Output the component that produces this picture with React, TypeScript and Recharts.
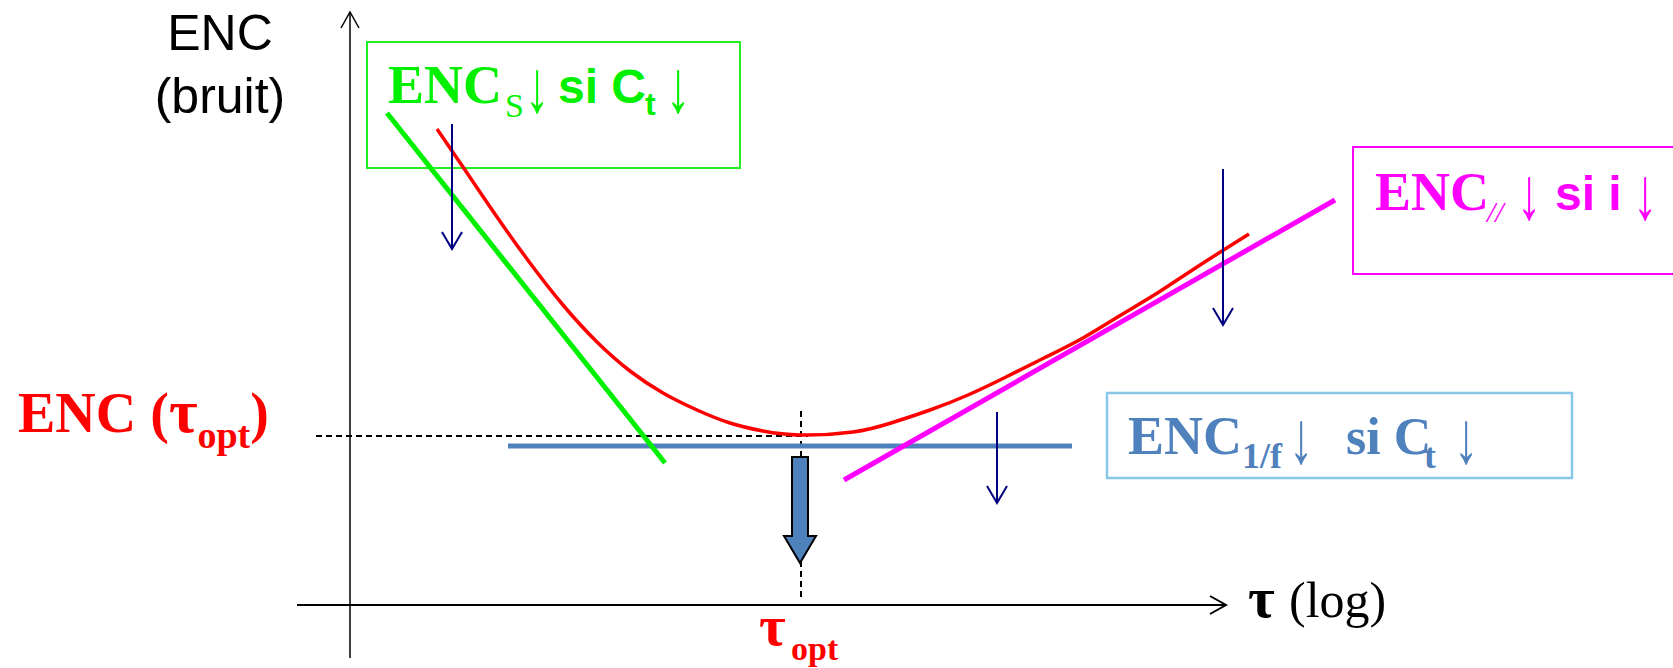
import React from 'react';
import { LineChart, Line, XAxis, YAxis, ReferenceLine, ReferenceArea, ReferenceDot } from 'recharts';

const W = 1673;
const H = 668;

// x = log(tau), y = ENC (arbitrary units)
const totalTau = [0.87, 1.13, 1.47, 1.8, 2.13, 2.47, 2.8, 3.13, 3.47, 3.8, 4.13, 4.5, 5.03, 5.41, 5.8, 6.18, 6.56, 6.94, 7.33, 7.71, 8.09, 8.47, 8.99];
const totalEnc = [4.76, 4.38, 3.88, 3.42, 3.0, 2.63, 2.34, 2.12, 1.95, 1.82, 1.74, 1.7, 1.73, 1.82, 1.95, 2.1, 2.28, 2.47, 2.67, 2.9, 3.13, 3.38, 3.71];

// series noise (slope -1), parallel noise (slope +1), 1/f noise (flat)
const seriesTau = [0.37, 3.15];
const seriesEnc = [4.92, 1.42];
const parallelTau = [4.94, 9.85];
const parallelEnc = [1.25, 4.05];
const flickerTau = [1.58, 7.22];
const flickerEnc = [1.59, 1.59];

const tauOpt = 4.51;
const encOpt = 1.69;

const X_DOMAIN = [-3.5, 13.23];
const Y_DOMAIN = [-0.63, 6.05];

const SERIF = '"Liberation Serif", "Times New Roman", serif';
const SANS = '"Liberation Sans", Arial, sans-serif';

const toRows = (xs: number[], ys: number[]) => xs.map((x, i) => ({ tau: x, enc: ys[i] }));

const headPoints = (x1: number, y1: number, x2: number, y2: number, len: number, half: number) => {
  const d = Math.hypot(x2 - x1, y2 - y1) || 1;
  const ux = (x2 - x1) / d;
  const uy = (y2 - y1) / d;
  const bx = x2 - ux * len;
  const by = y2 - uy * len;
  return `${bx - uy * half},${by + ux * half} ${x2},${y2} ${bx + uy * half},${by - ux * half}`;
};

const arrowShape = (color: string, width: number, len: number, half: number) => (p: any) => (
  <g>
    <line x1={p.x1} y1={p.y1} x2={p.x2} y2={p.y2} stroke={color} strokeWidth={width} />
    <polyline points={headPoints(p.x1, p.y1, p.x2, p.y2, len, half)} fill="none" stroke={color} strokeWidth={width} />
  </g>
);

// block arrow pointing down from (x1,y1) to the tip (x2,y2)
const blockArrow = (p: any) => {
  const { x1, y1, x2, y2 } = p;
  const sw = 8;
  const hw = 16;
  const hl = 27;
  const pts = [
    [x1 - sw, y1], [x1 + sw, y1], [x1 + sw, y2 - hl], [x1 + hw, y2 - hl],
    [x2, y2], [x1 - hw, y2 - hl], [x1 - sw, y2 - hl],
  ].map((q) => q.join(',')).join(' ');
  return <polygon points={pts} fill="#4F81BD" stroke="#000" strokeWidth={2} />;
};

type Piece = {
  t: string; dx: number; dy?: number; size: number;
  font?: string; weight?: string; style?: string; sx?: number; sy?: number;
};

const richText = (pieces: Piece[], color: string) => (p: any) => (
  <g>
    {pieces.map((s, i) => {
      const x = p.cx + s.dx;
      const y = p.cy + (s.dy || 0);
      const scaled = s.sx !== undefined || s.sy !== undefined;
      return (
        <text
          key={i}
          x={scaled ? 0 : x}
          y={scaled ? 0 : y}
          transform={scaled ? `translate(${x},${y}) scale(${s.sx ?? 1},${s.sy ?? 1})` : undefined}
          fill={color}
          fontFamily={s.font || SERIF}
          fontWeight={s.weight || 'bold'}
          fontStyle={s.style || 'normal'}
          fontSize={s.size}
        >
          {s.t}
        </text>
      );
    })}
  </g>
);

// the down arrow glyph: stretched tall and slim next to the words
const down = (dx: number): Piece => ({ t: '↓', dx, dy: 9, size: 54, weight: 'normal', sx: 0.9, sy: 1.37 });

const greenLabel: Piece[] = [
  { t: 'ENC', dx: 0, size: 54 },
  { t: 'S', dx: 117, dy: 14, size: 34, weight: 'normal' },
  down(137),
  { t: 'si C', dx: 170, size: 48, font: SANS },
  { t: 't', dx: 257, dy: 12, size: 32, font: SANS },
  down(278),
];

const magentaLabel: Piece[] = [
  { t: 'ENC', dx: 0, size: 54 },
  { t: '//', dx: 112, dy: 12, size: 30, style: 'italic', weight: 'normal' },
  down(142),
  { t: 'si i', dx: 180, size: 48, font: SANS },
  down(258),
];

const blueLabel: Piece[] = [
  { t: 'ENC', dx: 0, size: 54 },
  { t: '1/f', dx: 114, dy: 14, size: 36 },
  down(161),
  { t: 'si C', dx: 218, size: 52 },
  { t: 't', dx: 296, dy: 14, size: 36 },
  down(326),
];

const optLabel = (p: any) => (
  <text x={p.cx} y={p.cy} fill="#FF0000" fontFamily={SERIF} fontWeight="bold" fontSize={56}>
    ENC (<tspan fontSize={62}>τ</tspan>
    <tspan fontSize={38} dy={16}>opt</tspan>
    <tspan dy={-16}>)</tspan>
  </text>
);

const tauOptLabel: Piece[] = [
  { t: 'τ', dx: 0, size: 58 },
  { t: 'opt', dx: 32, dy: 15, size: 34 },
];

const xTitle: Piece[] = [
  { t: 'τ', dx: 8, size: 58 },
  { t: '(log)', dx: 49, size: 50, weight: 'normal' },
];

const yTitle = (p: any) => (
  <g fontFamily={SANS} fontSize={50} textAnchor="middle" fill="#000">
    <text x={p.cx} y={p.cy}>ENC</text>
    <text x={p.cx} y={p.cy + 63}>(bruit)</text>
  </g>
);

export default function App() {
  return (
    <div style={{ width: W, height: H, background: '#fff' }}>
      <style>{'body{margin:0}'}</style>
      <LineChart width={W} height={H} margin={{ top: 0, right: 0, bottom: 0, left: 0 }}>
        <XAxis dataKey="tau" type="number" domain={X_DOMAIN} allowDataOverflow hide />
        <YAxis dataKey="enc" type="number" domain={Y_DOMAIN} allowDataOverflow hide />

        {/* axes */}
        <ReferenceLine segment={[{ x: -0.53, y: 0 }, { x: 8.76, y: 0 }]} ifOverflow="visible" shape={arrowShape('#000', 2, 16, 9)} />
        <ReferenceLine segment={[{ x: 0, y: -0.53 }, { x: 0, y: 5.93 }]} ifOverflow="visible" shape={arrowShape('#000', 1.5, 16, 9)} />

        {/* boxes */}
        <ReferenceArea x1={0.17} x2={3.9} y1={4.37} y2={5.63} ifOverflow="visible" fill="none" fillOpacity={0} stroke="#22EE22" strokeWidth={2} />
        <ReferenceArea x1={10.03} x2={13.6} y1={3.31} y2={4.58} ifOverflow="visible" fill="none" fillOpacity={0} stroke="#FF00FF" strokeWidth={2} />
        <ReferenceArea x1={7.57} x2={12.22} y1={1.27} y2={2.12} ifOverflow="visible" fill="none" fillOpacity={0} stroke="#87C8EA" strokeWidth={2.5} />

        {/* optimum guides */}
        <ReferenceLine segment={[{ x: -0.34, y: encOpt }, { x: tauOpt + 0.07, y: encOpt }]} ifOverflow="visible" stroke="#000" strokeWidth={2} strokeDasharray="6 4" />
        <ReferenceLine segment={[{ x: tauOpt, y: 1.94 }, { x: tauOpt, y: 0.05 }]} ifOverflow="visible" stroke="#000" strokeWidth={2} strokeDasharray="6 4" />

        <Line data={toRows(flickerTau, flickerEnc)} dataKey="enc" type="linear" stroke="#4F81BD" strokeWidth={5} dot={false} activeDot={false} isAnimationActive={false} />
        <Line data={toRows(seriesTau, seriesEnc)} dataKey="enc" type="linear" stroke="#00F000" strokeWidth={5} dot={false} activeDot={false} isAnimationActive={false} />
        <Line data={toRows(parallelTau, parallelEnc)} dataKey="enc" type="linear" stroke="#FF00FF" strokeWidth={5} dot={false} activeDot={false} isAnimationActive={false} />
        <Line data={toRows(totalTau, totalEnc)} dataKey="enc" type="natural" stroke="#FF0000" strokeWidth={3.5} dot={false} activeDot={false} isAnimationActive={false} />

        {/* "decreases if" arrows */}
        <ReferenceLine segment={[{ x: 1.02, y: 4.81 }, { x: 1.02, y: 3.56 }]} ifOverflow="visible" shape={arrowShape('#000080', 2, 17, 10)} />
        <ReferenceLine segment={[{ x: 8.73, y: 4.36 }, { x: 8.73, y: 2.8 }]} ifOverflow="visible" shape={arrowShape('#000080', 2, 17, 10)} />
        <ReferenceLine segment={[{ x: 6.47, y: 1.93 }, { x: 6.47, y: 1.02 }]} ifOverflow="visible" shape={arrowShape('#000080', 2, 17, 10)} />
        <ReferenceLine segment={[{ x: tauOpt - 0.01, y: 1.48 }, { x: tauOpt - 0.01, y: 0.42 }]} ifOverflow="visible" shape={blockArrow} />

        {/* labels */}
        <ReferenceDot x={-1.3} y={5.55} ifOverflow="visible" shape={yTitle} />
        <ReferenceDot x={0.38} y={5.02} ifOverflow="visible" shape={richText(greenLabel, '#00F000')} />
        <ReferenceDot x={10.25} y={3.95} ifOverflow="visible" shape={richText(magentaLabel, '#FF00FF')} />
        <ReferenceDot x={7.78} y={1.51} ifOverflow="visible" shape={richText(blueLabel, '#4F81BD')} />
        <ReferenceDot x={-3.32} y={1.73} ifOverflow="visible" shape={optLabel} />
        <ReferenceDot x={4.09} y={-0.4} ifOverflow="visible" shape={richText(tauOptLabel, '#FF0000')} />
        <ReferenceDot x={8.9} y={-0.12} ifOverflow="visible" shape={richText(xTitle, '#000')} />
      </LineChart>
    </div>
  );
}
